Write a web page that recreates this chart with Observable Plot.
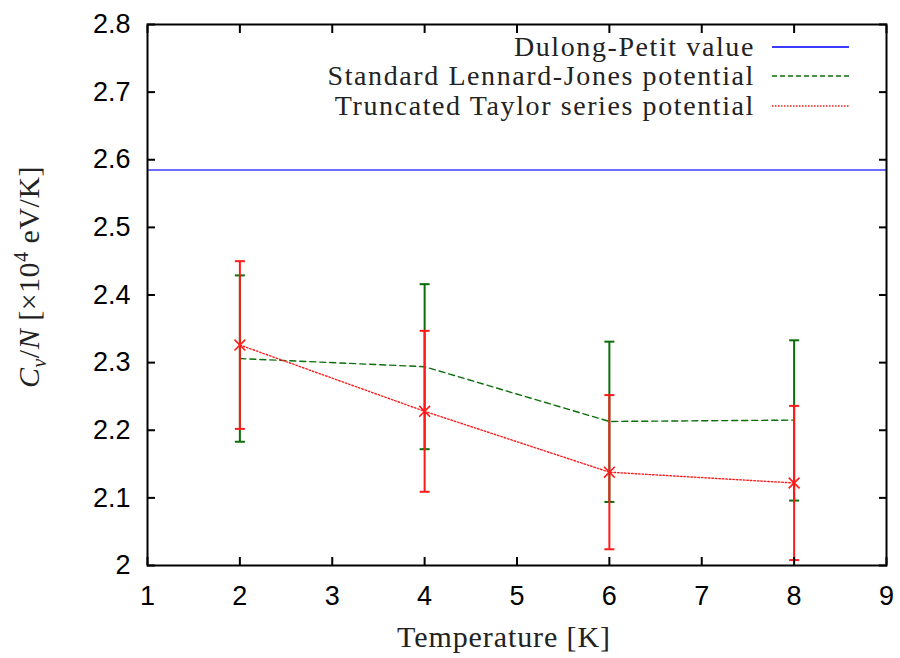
<!DOCTYPE html>
<html>
<head>
<meta charset="utf-8">
<script src="https://cdn.jsdelivr.net/npm/d3@7"></script>
<script src="https://cdn.jsdelivr.net/npm/@observablehq/plot@0.6"></script>
<style>
  html, body { margin: 0; padding: 0; background: white; }
  #wrap { position: relative; width: 900px; height: 658px; }
  .serif { font-family: "Liberation Serif", "Times New Roman", serif; color: #222; }
  .leg-text { position: absolute; right: 145px; font-size: 28px; letter-spacing: 1.6px; white-space: nowrap; line-height: 24px; height: 24px; }
  .leg-line { position: absolute; left: 772px; }
</style>
</head>
<body>
<div id="wrap"></div>
<script>
// ---------- data ----------
const temps = [2, 4, 6, 8];
const ljMean = [2.306, 2.294, 2.213, 2.215];
const ljLow  = [2.183, 2.172, 2.094, 2.096];
const ljHigh = [2.429, 2.416, 2.331, 2.333];
const ttMean = [2.326, 2.228, 2.138, 2.122];
const ttLow  = [2.202, 2.109, 2.024, 2.008];
const ttHigh = [2.450, 2.347, 2.252, 2.236];
const dulongPetit = 2.585;
const xTicks = [1, 2, 3, 4, 5, 6, 7, 8, 9];
const yTicks = [2, 2.1, 2.2, 2.3, 2.4, 2.5, 2.6, 2.7, 2.8];
const yTickLabels = ["2", "2.1", "2.2", "2.3", "2.4", "2.5", "2.6", "2.7", "2.8"];
const seriesNames = ["Dulong-Petit value", "Standard Lennard-Jones potential", "Truncated Taylor series potential"];

const blue = "#3c3cff", green = "#0a6e0a", red = "#ff1a1a";

const lj = temps.map((T, i) => ({T, mean: ljMean[i], low: ljLow[i], high: ljHigh[i]}));
const tt = temps.map((T, i) => ({T, mean: ttMean[i], low: ttLow[i], high: ttHigh[i]}));

const cap = {draw(ctx, size) { const w = Math.sqrt(size / Math.PI); ctx.moveTo(-w, 0); ctx.lineTo(w, 0); }};

const chart = Plot.plot({
  width: 900, height: 658,
  marginLeft: 147, marginRight: 14, marginTop: 24, marginBottom: 93,
  x: {domain: [1, 9]},
  y: {domain: [2, 2.8]},
  style: {fontFamily: "'Liberation Sans', Arial, sans-serif", background: "white", color: "black", fontSize: "27px"},
  marks: [
    Plot.ruleY([dulongPetit], {stroke: blue, strokeWidth: 1.5}),
    Plot.line(lj, {x: "T", y: "mean", stroke: green, strokeDasharray: "6,4", strokeWidth: 1.4}),
    Plot.line(tt, {x: "T", y: "mean", stroke: red, strokeDasharray: "1.5,2", strokeWidth: 1.4}),
    Plot.ruleX(lj, {x: "T", y1: "low", y2: "high", stroke: green, strokeWidth: 2}),
    Plot.dot(lj, {x: "T", y: "low", symbol: cap, r: 5, stroke: green, strokeWidth: 2}),
    Plot.dot(lj, {x: "T", y: "high", symbol: cap, r: 5, stroke: green, strokeWidth: 2}),
    Plot.ruleX(tt, {x: "T", y1: "low", y2: "high", stroke: red, strokeWidth: 2}),
    Plot.dot(tt, {x: "T", y: "low", symbol: cap, r: 5, stroke: red, strokeWidth: 2}),
    Plot.dot(tt, {x: "T", y: "high", symbol: cap, r: 5, stroke: red, strokeWidth: 2}),
    Plot.dot(tt, {x: "T", y: "mean", symbol: "times", r: 5, stroke: red, strokeWidth: 1.6}),
    Plot.frame({stroke: "black", strokeWidth: 2}),
    Plot.axisX({anchor: "bottom", ticks: xTicks, tickSize: -8, tickFormat: () => "", label: null, strokeWidth: 2}),
    Plot.axisX({anchor: "top", ticks: xTicks, tickSize: -8, tickFormat: () => "", label: null, strokeWidth: 2}),
    Plot.axisY({anchor: "left", ticks: yTicks, tickSize: -8, tickFormat: () => "", label: null, strokeWidth: 2}),
    Plot.axisY({anchor: "right", ticks: yTicks, tickSize: -8, tickFormat: () => "", label: null, strokeWidth: 2}),
    Plot.axisX({anchor: "bottom", ticks: xTicks, tickSize: 0, tickPadding: 20, label: null, fontSize: 27, tickFormat: d => String(d)}),
    Plot.axisY({anchor: "left", ticks: yTicks, tickSize: 0, tickPadding: 17, label: null, fontSize: 27,
      tickFormat: d => yTickLabels[yTicks.indexOf(d)]})
  ]
});

const wrap = document.getElementById("wrap");
chart.style.position = "absolute";
chart.style.left = "0px";
chart.style.top = "0px";
wrap.appendChild(chart);

// x-axis title
const xl = document.createElement("div");
xl.className = "serif";
xl.textContent = "Temperature [K]";
Object.assign(xl.style, {position: "absolute", left: "0px", width: "1008px", textAlign: "center", top: "620px",
  fontSize: "30px", lineHeight: "34px", letterSpacing: "0.9px"});
wrap.appendChild(xl);

// y-axis title
const yl = document.createElement("div");
yl.className = "serif";
yl.innerHTML = "<i>C</i><sub style='font-size:20px'><i>v</i></sub>/<i>N</i> [×10<sup style='font-size:20px'>4</sup> eV/K]";
Object.assign(yl.style, {position: "absolute", left: "30px", top: "277px", fontSize: "30px", whiteSpace: "nowrap",
  transform: "translate(-50%, -50%) rotate(-90deg)", lineHeight: "34px", letterSpacing: "0.5px"});
wrap.appendChild(yl);

// legend
const legStyles = [
  {stroke: blue, dash: null, width: 2},
  {stroke: green, dash: "5,3", width: 1.5},
  {stroke: red, dash: "1.5,1.5", width: 1.5}
];
const rowCenters = [46.5, 76, 105.5];
seriesNames.forEach((name, i) => {
  const t = document.createElement("div");
  t.className = "serif leg-text";
  t.textContent = name;
  t.style.top = (rowCenters[i] - 12) + "px";
  wrap.appendChild(t);
  const s = document.createElementNS("http://www.w3.org/2000/svg", "svg");
  s.setAttribute("width", "78"); s.setAttribute("height", "6");
  s.setAttribute("class", "leg-line");
  s.style.position = "absolute";
  s.style.top = (rowCenters[i] - 3) + "px";
  const ln = document.createElementNS("http://www.w3.org/2000/svg", "line");
  ln.setAttribute("x1", "0"); ln.setAttribute("x2", "77"); ln.setAttribute("y1", "3"); ln.setAttribute("y2", "3");
  ln.setAttribute("stroke", legStyles[i].stroke);
  ln.setAttribute("stroke-width", legStyles[i].width);
  if (legStyles[i].dash) ln.setAttribute("stroke-dasharray", legStyles[i].dash);
  s.appendChild(ln);
  wrap.appendChild(s);
});
</script>
</body>
</html>
